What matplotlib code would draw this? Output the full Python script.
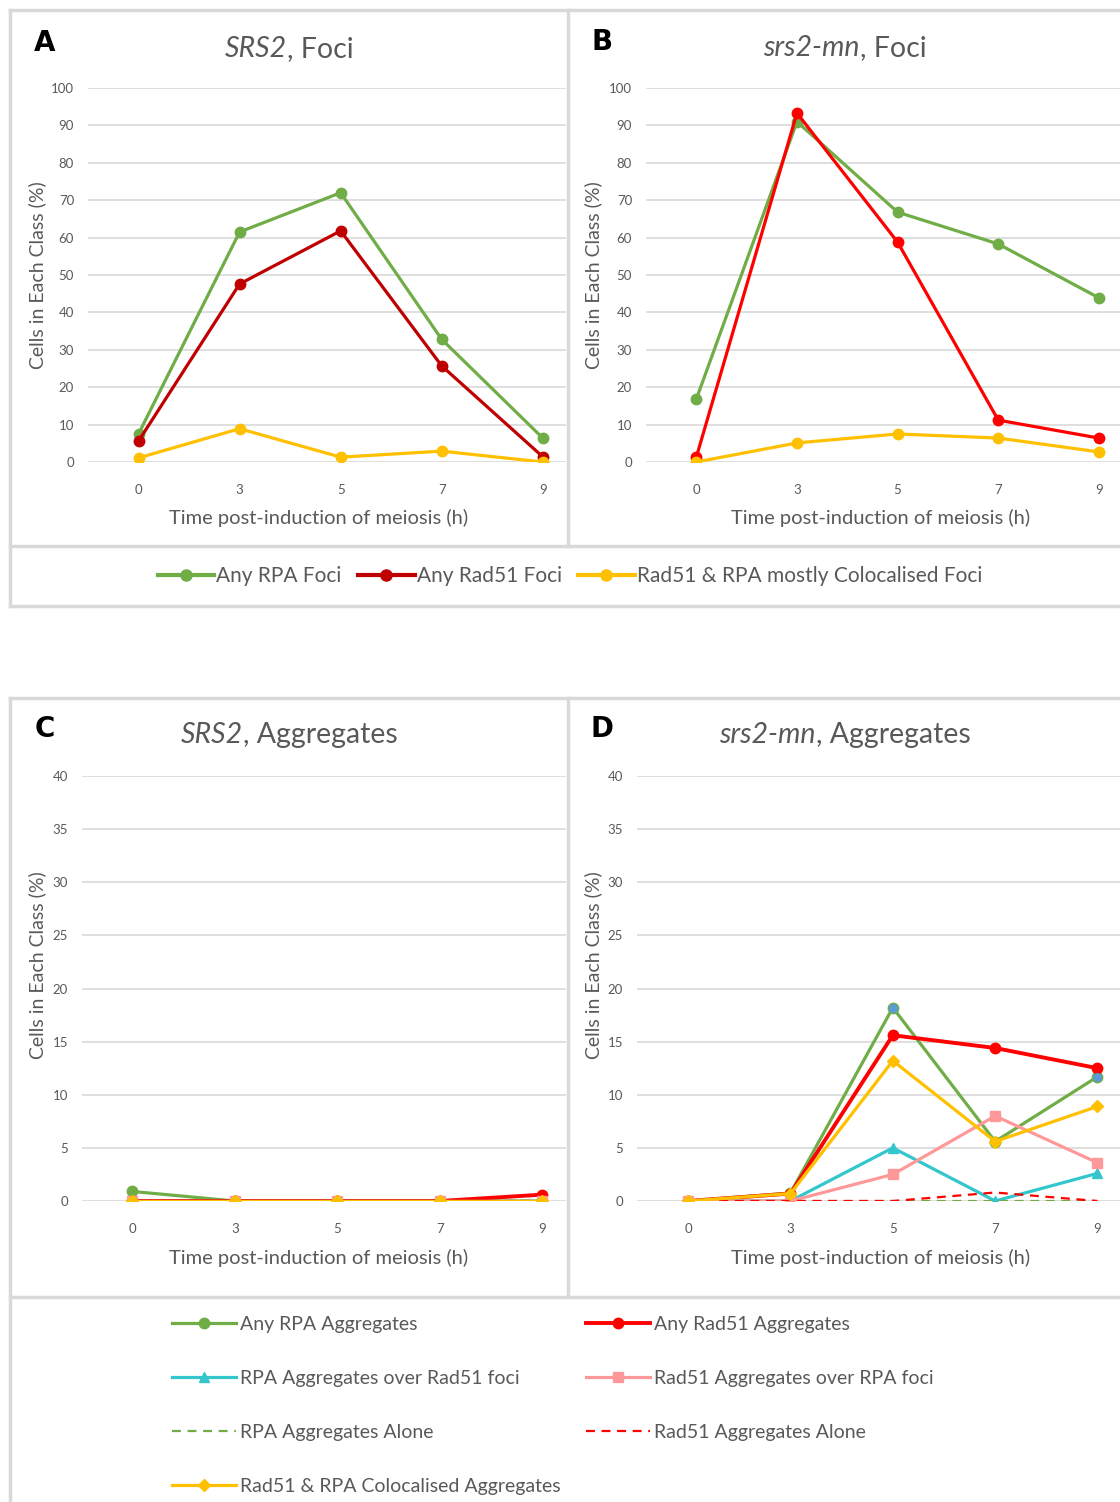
import matplotlib
matplotlib.use('Agg')
import matplotlib.pyplot as plt
from matplotlib.lines import Line2D

plt.rcParams['font.family'] = ['Lato', 'DejaVu Sans']

# time points (categorical x axis)
hours = ['0', '3', '5', '7', '9']

# Foci, SRS2 (panel A)
rpa_foci_wt = [7.5, 61.5, 72.0, 32.8, 6.4]
rad51_foci_wt = [5.6, 47.6, 61.8, 25.7, 1.4]
coloc_foci_wt = [1.1, 8.9, 1.3, 2.9, 0.0]

# Foci, srs2-mn (panel B)
rpa_foci_mn = [16.8, 91.0, 66.8, 58.3, 43.9]
rad51_foci_mn = [1.3, 93.3, 58.8, 11.2, 6.4]
coloc_foci_mn = [0.0, 5.1, 7.5, 6.4, 2.7]

# Aggregates, SRS2 (panel C)
rpa_agg_wt = [0.9, 0.0, 0.0, 0.0, 0.0]
rad51_agg_wt = [0.0, 0.0, 0.0, 0.0, 0.6]
rpa_over_rad51_wt = [0.0, 0.0, 0.0, 0.0, 0.0]
rad51_over_rpa_wt = [0.0, 0.0, 0.0, 0.0, 0.0]
rpa_alone_wt = [0.0, 0.0, 0.0, 0.0, 0.0]
rad51_alone_wt = [0.0, 0.0, 0.0, 0.0, 0.0]
coloc_agg_wt = [0.0, 0.0, 0.0, 0.0, 0.0]

# Aggregates, srs2-mn (panel D)
rpa_agg_mn = [0.0, 0.75, 18.2, 5.6, 11.7]
rad51_agg_mn = [0.0, 0.7, 15.6, 14.4, 12.5]
rpa_over_rad51_mn = [0.0, 0.0, 5.0, 0.0, 2.6]
rad51_over_rpa_mn = [0.0, 0.0, 2.5, 8.0, 3.6]
rpa_alone_mn = [0.0, 0.0, 0.0, 0.0, 0.0]
rad51_alone_mn = [0.0, 0.0, 0.0, 0.8, 0.0]
coloc_agg_mn = [0.0, 0.7, 13.2, 5.6, 8.9]

GREEN = '#70ad47'
DKRED = '#c00000'
RED = '#ff0000'
YELLOW = '#ffc000'
CYAN = '#33c6cc'
PINK = '#ff9999'
GRID = '#d9d9d9'
TXT = '#595959'
BORDER = '#d9d9d9'

W, H = 1120, 1502
fig = plt.figure(figsize=(W / 100, H / 100), dpi=100)
renderer = fig.canvas.get_renderer()


def rect(l, t, r, b):
    return [l / W, 1 - b / H, (r - l) / W, (b - t) / H]


def px(x, y):
    return x / W, 1 - y / H


def style_axes(ax, ymax, ystep, xlim):
    ax.set_xlim(*xlim)
    ax.set_ylim(0, ymax)
    ax.set_yticks(range(0, ymax + 1, ystep))
    ax.set_xticks(range(len(hours)))
    ax.set_xticklabels(hours)
    for s in ax.spines.values():
        s.set_visible(False)
    ax.grid(axis='y', color=GRID, lw=1.2)
    ax.set_axisbelow(True)
    ax.tick_params(length=0, labelsize=9.5, labelcolor=TXT)
    ax.tick_params(axis='y', pad=10)
    ax.tick_params(axis='x', pad=16)


x = range(len(hours))
lw = 2.3
ms = 7.5

# panel A
axA = fig.add_axes(rect(88, 88, 566, 462))
style_axes(axA, 100, 10, (-0.5, 4.23))
axA.plot(x, rpa_foci_wt, color=GREEN, lw=lw, marker='o', ms=ms)
axA.plot(x, rad51_foci_wt, color=DKRED, lw=lw, marker='o', ms=ms)
axA.plot(x, coloc_foci_wt, color=YELLOW, lw=lw, marker='o', ms=ms)

# panel B
axB = fig.add_axes(rect(646, 88, 1120, 462))
style_axes(axB, 100, 10, (-0.5, 4.21))
axB.plot(x, rpa_foci_mn, color=GREEN, lw=lw, marker='o', ms=ms)
axB.plot(x, rad51_foci_mn, color=RED, lw=lw, marker='o', ms=ms)
axB.plot(x, coloc_foci_mn, color=YELLOW, lw=lw, marker='o', ms=ms)


def agg_lines(ax, rpa, rad51, over_rad51, over_rpa, rpa_alone, rad51_alone, coloc):
    hs = []
    hs.append(ax.plot(x, rpa, color=GREEN, lw=lw, marker='o', ms=ms)[0])
    hs.append(ax.plot(x, rad51, color=RED, lw=lw + 0.5, marker='o', ms=ms)[0])
    hs.append(ax.plot(x, over_rad51, color=CYAN, lw=lw, marker='^', ms=ms)[0])
    hs.append(ax.plot(x, over_rpa, color=PINK, lw=lw, marker='s', ms=ms)[0])
    hs.append(ax.plot(x, rpa_alone, color=GREEN, lw=1.6, ls=(0, (4, 3)))[0])
    hs.append(ax.plot(x, rad51_alone, color=RED, lw=1.6, ls=(0, (4, 3)))[0])
    hs.append(ax.plot(x, coloc, color=YELLOW, lw=lw, marker='D', ms=ms - 1.5)[0])
    return hs


# panel C
axC = fig.add_axes(rect(82, 776, 566, 1201))
style_axes(axC, 40, 5, (-0.49, 4.23))
agg_lines(axC, rpa_agg_wt, rad51_agg_wt, rpa_over_rad51_wt, rad51_over_rpa_wt,
          rpa_alone_wt, rad51_alone_wt, coloc_agg_wt)

# panel D
axD = fig.add_axes(rect(637, 776, 1120, 1201))
style_axes(axD, 40, 5, (-0.5, 4.22))
hD = agg_lines(axD, rpa_agg_mn, rad51_agg_mn, rpa_over_rad51_mn, rad51_over_rpa_mn,
               rpa_alone_mn, rad51_alone_mn, coloc_agg_mn)
axD.plot(x, rpa_agg_mn, ls='none', marker='o', ms=ms - 2, markevery=[2, 4],
         mfc='#5b9bd5', mec='#5b9bd5')


def mixed_title(cx, cy, ital, rest, size=20.5):
    # italic gene name followed by plain text, centred as a whole
    t1 = fig.text(0, 0, ital, fontsize=size, style='italic', color=TXT)
    t2 = fig.text(0, 0, rest, fontsize=size, color=TXT)
    w1 = t1.get_window_extent(renderer).width
    w2 = t2.get_window_extent(renderer).width
    left = cx - (w1 + w2) / 2
    t1.set_position(px(left, cy))
    t1.set_va('center')
    t2.set_position(px(left + w1, cy))
    t2.set_va('center')


titles = [('SRS2', ', Foci', 289, 49, 'A', 45),
          ('srs2-mn', ', Foci', 845, 48, 'B', 602),
          ('SRS2', ', Aggregates', 289, 735, 'C', 45),
          ('srs2-mn', ', Aggregates', 845, 735, 'D', 602)]
for ital, rest, tx, ty, letter, lx in titles:
    mixed_title(tx, ty, ital, rest)
    fig.text(*px(lx, ty - 6), letter, ha='center', va='center', fontsize=20,
             fontweight='heavy', family='DejaVu Sans', color='black')

for cx, cy in [(319, 518), (881, 518), (319, 1258), (881, 1258)]:
    fig.text(*px(cx, cy), 'Time post-induction of meiosis (h)', ha='center',
             va='center', fontsize=14.5, color=TXT)
for cx, cy in [(37, 275), (593, 275), (37, 965), (593, 965)]:
    fig.text(*px(cx, cy), 'Cells in Each Class (%)', ha='center', va='center',
             rotation=90, fontsize=14, color=TXT)

# legends
top_handles = [Line2D([], [], color=GREEN, lw=3, marker='o', ms=8),
               Line2D([], [], color=DKRED, lw=3, marker='o', ms=8),
               Line2D([], [], color=YELLOW, lw=3, marker='o', ms=8)]
top_labels = ['Any RPA Foci', 'Any Rad51 Foci', 'Rad51 & RPA mostly Colocalised Foci']
fig.legend(top_handles, top_labels, loc='center', bbox_to_anchor=px(570, 576),
           ncol=3, frameon=False, fontsize=15, handlelength=2.7,
           handletextpad=0.1, columnspacing=0.8, labelcolor=TXT)

agg_labels = ['Any RPA Aggregates', 'Any Rad51 Aggregates',
              'RPA Aggregates over Rad51 foci', 'Rad51 Aggregates over RPA foci',
              'RPA Aggregates Alone', 'Rad51 Aggregates Alone',
              'Rad51 & RPA Colocalised Aggregates']
left_idx = [0, 2, 4, 6]
right_idx = [1, 3, 5]
for idx, lx in [(left_idx, 172), (right_idx, 586)]:
    fig.legend([hD[i] for i in idx], [agg_labels[i] for i in idx], loc='upper left',
               bbox_to_anchor=px(lx, 1316), frameon=False, fontsize=14,
               handlelength=3.3, handletextpad=0.2, labelspacing=1.9,
               labelcolor=TXT, borderpad=0, borderaxespad=0)


# panel borders
def bline(x0, y0, x1, y1):
    fig.add_artist(Line2D([x0 / W, x1 / W], [1 - y0 / H, 1 - y1 / H],
                          color=BORDER, lw=2.5, transform=fig.transFigure))


bline(10, 10, 1120, 10)
bline(10, 10, 10, 606)
bline(10, 606, 1120, 606)
bline(568, 10, 568, 546)
bline(10, 546, 1120, 546)
bline(10, 698, 1120, 698)
bline(10, 698, 10, 1502)
bline(568, 698, 568, 1297)
bline(10, 1297, 1120, 1297)

fig.savefig('out.png', dpi=100)
